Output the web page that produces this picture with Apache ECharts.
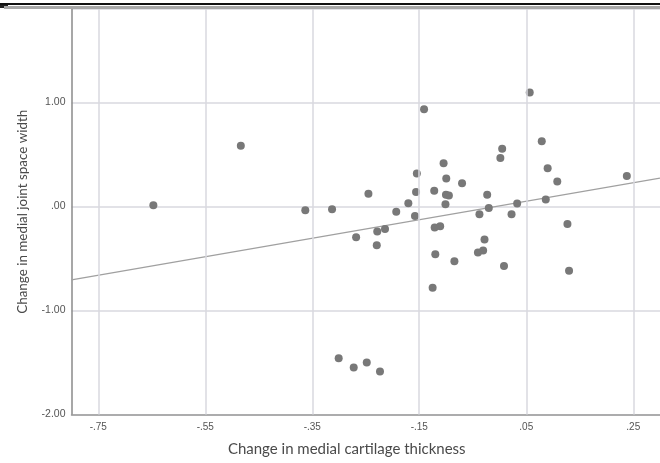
<!DOCTYPE html>
<html><head><meta charset="utf-8">
<script src="https://cdn.jsdelivr.net/npm/echarts@6/dist/echarts.min.js"></script>
<style>html,body{margin:0;padding:0;background:#fff}#c{width:660px;height:463px}</style>
</head><body><div id="c"></div>
<script>
// Scatter points: change in medial cartilage thickness (x) vs change in medial joint space width (y)
const pointsX = [-0.647,-0.4835,-0.363,-0.313,-0.268,0.0565,-0.141,0.079,0.005,0.0016,
  -0.1045,0.090,-0.1545,0.238,-0.0995,0.108,-0.070,-0.122,-0.156,-0.245,
  -0.1001,-0.0946,-0.023,0.0865,-0.1704,-0.101,0.033,-0.020,-0.193,-0.0375,
  0.0225,-0.158,0.127,-0.1212,-0.1109,-0.214,-0.2285,-0.028,-0.2294,-0.120,
  -0.0403,-0.0306,-0.0843,0.0084,0.130,-0.125,-0.3006,-0.2725,-0.2481,-0.2234];
const pointsY = [0.013,0.584,-0.035,-0.025,-0.296,1.096,0.937,0.629,0.555,0.468,
  0.417,0.369,0.317,0.295,0.269,0.242,0.223,0.151,0.141,0.122,
  0.1125,0.106,0.1125,0.069,0.031,0.023,0.029,-0.014,-0.051,-0.075,
  -0.075,-0.091,-0.168,-0.202,-0.190,-0.217,-0.240,-0.317,-0.373,-0.458,
  -0.442,-0.423,-0.525,-0.572,-0.618,-0.782,-1.460,-1.548,-1.501,-1.587];
// Fit line end points
const fitX = [-0.80, 0.30];
const fitY = [-0.705, 0.273];
// Tick labels
const xTickValues = [-0.75,-0.55,-0.35,-0.15,0.05,0.25];
const xTickLabels = ['-.75','-.55','-.35','-.15','.05','.25'];
const yTickValues = [-2,-1,0,1];
const yTickLabels = ['-2.00','-1.00','.00','1.00'];
const xTitle = 'Change in medial cartilage thickness';
const yTitle = 'Change in medial joint space width';

const chart = echarts.init(document.getElementById('c'), null, {renderer:'canvas'});
const pts = pointsX.map((x,i)=>[x, pointsY[i]]);
const fit = fitX.map((x,i)=>[x, fitY[i]]);
function lab(vals, labs, v){
  for (let i=0;i<vals.length;i++){ if (Math.abs(vals[i]-v)<1e-6) return labs[i]; }
  return '';
}
const gridColor = '#d8d9df';
chart.setOption({
  animation:false,
  backgroundColor:'#ffffff',
  grid:{left:71.5,right:0,top:9,bottom:48.5,containLabel:false},
  xAxis:{
    type:'value',min:-0.8,max:0.3,
    splitLine:{show:false},
    axisLine:{show:true,onZero:false,lineStyle:{color:'#9a9a9a',width:1.5}},
    axisTick:{show:false},
    axisLabel:{customValues:xTickValues,formatter:v=>lab(xTickValues,xTickLabels,v),
      fontFamily:'Liberation Sans',fontSize:10,color:'#555',margin:8},
    name:xTitle,nameLocation:'middle',nameGap:27,
    nameTextStyle:{fontFamily:'Lato',fontSize:15,color:'#4a4a4a',padding:[0,38,0,0]}
  },
  yAxis:{
    type:'value',min:-2,max:1.9,interval:1,
    splitLine:{show:true,lineStyle:{color:gridColor,width:1.5}},
    axisLine:{show:true,onZero:false,lineStyle:{color:'#8a8a8a',width:1.5}},
    axisTick:{show:false},
    axisLabel:{formatter:v=>lab(yTickValues,yTickLabels,v),showMaxLabel:false,
      fontFamily:'Liberation Sans',fontSize:10.5,color:'#555',margin:6},
    name:yTitle,nameLocation:'middle',nameGap:42,
    nameTextStyle:{fontFamily:'Lato',fontSize:13.4,color:'#4a4a4a'}
  },
  series:[
    {type:'scatter',data:[],z:1,silent:true,
      markLine:{silent:true,symbol:['none','none'],label:{show:false},
        lineStyle:{color:gridColor,width:1.5,type:'solid'},
        data:xTickValues.map(v=>({xAxis:v}))}},
    {type:'line',data:fit,z:2,showSymbol:false,symbol:'none',
      lineStyle:{color:'#a0a0a0',width:1.3}},
    {type:'scatter',data:pts,z:3,symbolSize:8,
      itemStyle:{color:'#787878',opacity:1}}
  ],
  graphic:[
    {type:'rect',shape:{x:0,y:3,width:660,height:2},style:{fill:'#111'},z:10},
    {type:'rect',shape:{x:0,y:5,width:8,height:3},style:{fill:'#222'},z:10},
    {type:'rect',shape:{x:4,y:6,width:656,height:3},style:{fill:'#a8a8a8'},z:10}
  ]
});
</script></body></html>
